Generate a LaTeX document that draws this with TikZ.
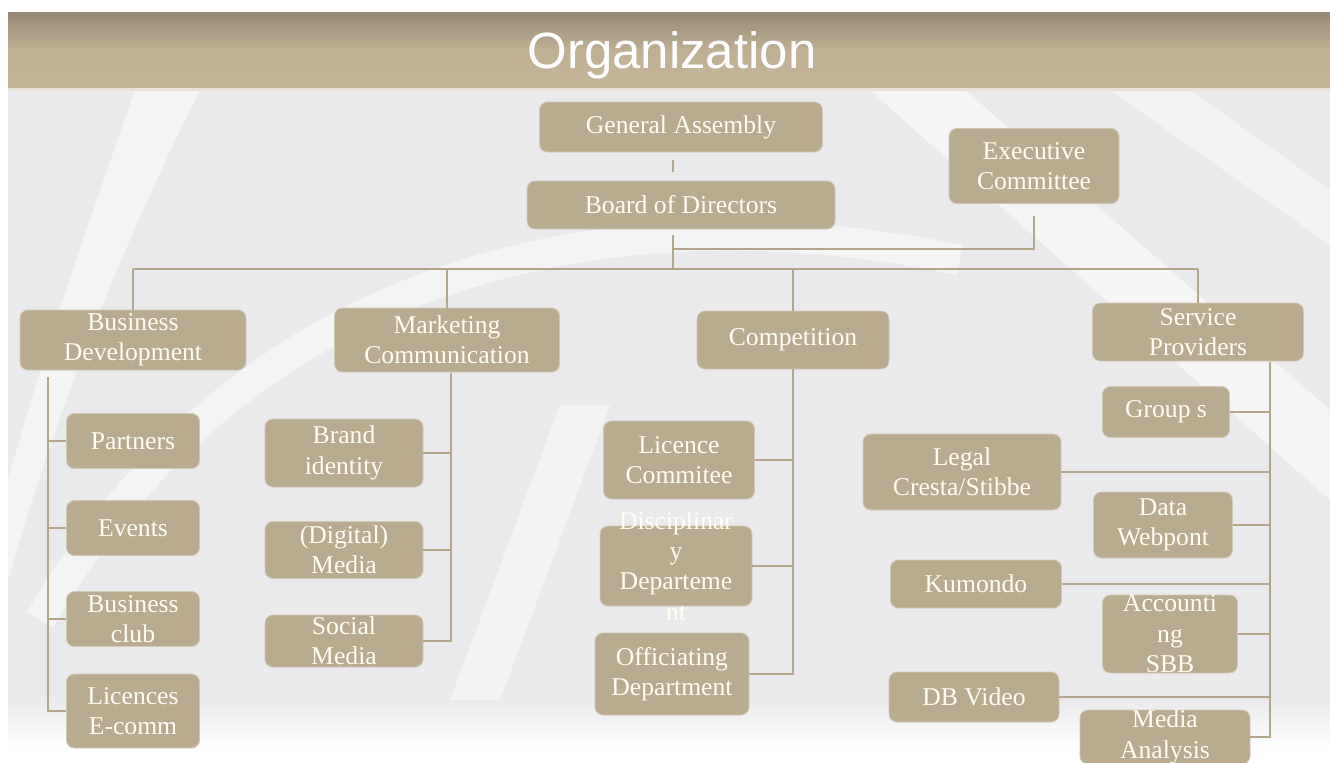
\documentclass[tikz,border=0pt]{standalone}
\usepackage{fontspec}
\setmainfont{Liberation Serif}
\newfontfamily\titlefont{Liberation Sans}
\usetikzlibrary{calc}
\definecolor{boxfill}{RGB}{185,171,143}
\definecolor{linecol}{RGB}{180,166,140}
\definecolor{boxtext}{RGB}{255,252,242}
\definecolor{bartop}{RGB}{150,137,116}
\definecolor{barmid}{RGB}{191,176,148}
\definecolor{barbot}{RGB}{197,182,153}
\definecolor{bodygray}{RGB}{234,234,236}

\begin{document}
\begin{tikzpicture}[x=0.02cm, y=-0.02cm,
  box/.style={fill=boxfill, draw=boxfill!65!white, line width=0.5pt,
    rounded corners=4.5pt, inner sep=0pt, text=boxtext, align=center,
    font=\fontsize{14.6}{17.3}\selectfont},
  boxtxt/.style={text=boxtext, align=center, inner sep=0pt,
    font=\fontsize{14.6}{17.3}\selectfont},
  sz/.style 2 args={minimum width=#1*0.02cm, minimum height=#2*0.02cm},
  conn/.style={draw=linecol, line width=1.6pt}]
\useasboundingbox (0,0) rectangle (1330,762);
\clip (0,0) rectangle (1330,762);
  % background
  \fill[white] (0,0) rectangle (1330,762);
  \fill[bodygray] (8,90) rectangle (1330,700);
  \shade[top color=bodygray, bottom color=white] (8,699) rectangle (1330,750);
  \fill[white, opacity=0.5] (135,90) -- (200,90) .. controls (120,250) and (60,400) .. (8,580) -- (8,480) .. controls (50,330) and (90,220) .. cycle;
  \draw[white, opacity=0.5, line width=0.6cm] (40,620) .. controls (250,260) and (620,190) .. (960,260);
  \fill[white, opacity=0.55] (870,90) -- (965,90) -- (1330,410) -- (1330,500) -- cycle;
  \fill[white, opacity=0.45] (1110,90) -- (1190,90) -- (1330,190) -- (1330,245) -- cycle;
  \fill[white, opacity=0.45] (560,405) -- (610,405) -- (500,700) -- (450,700) -- cycle;
  % title bar
  \shade[top color=bartop, bottom color=barbot, middle color=barmid] (8,12) rectangle (1330,88);
  \fill[barbot!40!white] (8,88) rectangle (1330,91);
  \node[text=white, font=\titlefont\fontsize{29}{32}\selectfont] (title) at (672,55) {Organization};

  % top of the chart
  \node[box, sz={283}{50}] (ga) at (681,127) {General Assembly};
  \node[box, sz={308}{48}] (bod) at (681,205) {Board of Directors};
  \node[box, sz={170}{75}] (exec) at (1034,166) {Executive\\Committee};
  \coordinate (hub) at (673,269);
  \coordinate (ej) at (673,249);
  \draw[conn] ($(ga.south)!0.28!(bod.north)+(-8,0)$) -- ($(ga.south)!0.68!(bod.north)+(-8,0)$);
  \draw[conn] ([yshift=-0.12cm]bod.south -| hub) -- (hub);
  \draw[conn] ([yshift=-0.24cm]exec.south) |- (ej);

  % departments
  \node[box, sz={226}{60}] (bd) at (133,340) {Business\\Development};
  \node[box, sz={225}{64}] (mc) at (447,340) {Marketing\\Communication};
  \node[box, sz={192}{58}] (cp) at (793,340) {Competition};
  \node[box, sz={211}{58}] (sp) at (1198,332) {Service\\Providers};
  \draw[conn] (bd.north |- hub) -- (sp.north |- hub);
  \draw[conn] (bd.north |- hub) -- (bd.north);
  \draw[conn] (mc.north |- hub) -- (mc.north);
  \draw[conn] (cp.north |- hub) -- (cp.north);
  \draw[conn] (sp.north |- hub) -- (sp.north);

  % business development
  \node[box, sz={133}{55}] (pt) at (133,441) {Partners};
  \node[box, sz={133}{55}] (ev) at (133,528) {Events};
  \node[box, sz={133}{55}] (bc) at (133,619) {Business\\club};
  \node[box, sz={133}{74}] (lic) at (133,711) {Licences\\E-comm};
  \coordinate (bd-l) at (48,377);
  \draw[conn] (bd-l) |- (lic.west);
  \draw[conn] (pt.west) -- (pt.west -| bd-l);
  \draw[conn] (ev.west) -- (ev.west -| bd-l);
  \draw[conn] (bc.west) -- (bc.west -| bd-l);

  % marketing communication
  \node[box, sz={158}{68}] (br) at (344,453) {Brand\\identity};
  \node[box, sz={158}{57}] (dm) at (344,550) {(Digital)\\Media};
  \node[box, sz={158}{52}] (sm) at (344,641) {Social\\Media};
  \coordinate (mc-r) at (451,373);
  \draw[conn] (mc-r) |- (sm.east);
  \draw[conn] (br.east) -- (br.east -| mc-r);
  \draw[conn] (dm.east) -- (dm.east -| mc-r);

  % competition
  \node[box, sz={151}{78}] (lc) at (679,460) {Licence\\Commitee};
  \node[box, sz={152}{80}] (dd) at (676,566) {};
  \node[boxtxt] (dd-t) at (dd.center) {Disciplinar\\y\\Departeme\\nt};
  \node[box, sz={154}{82}] (od) at (672,674) {Officiating\\Department};
  \draw[conn] (cp.south) |- (od.east);
  \draw[conn] (lc.east) -- (lc.east -| cp.south);
  \draw[conn] (dd.east) -- (dd.east -| cp.south);

  % service providers
  \node[box, sz={127}{51}] (gs) at (1166,412) {Group s};
  \node[box, sz={198}{76}] (lg) at (962,472) {Legal\\Cresta/Stibbe};
  \node[box, sz={139}{66}] (dw) at (1163,525) {Data\\Webpont};
  \node[box, sz={171}{48}] (km) at (976,584) {Kumondo};
  \node[box, sz={135}{78}] (ac) at (1170,634) {};
  \node[boxtxt] (ac-t) at (ac.center) {Accounti\\ng\\SBB};
  \node[box, sz={170}{50}] (db) at (974,697) {DB Video};
  \node[box, sz={170}{54}] (ma) at (1165,737) {Media\\Analysis};
  \coordinate (sp-r) at (1270,362);
  \draw[conn] (sp-r) |- (ma.east);
  \draw[conn] (gs.east) -- (gs.east -| sp-r);
  \draw[conn] (lg.east) -- (lg.east -| sp-r);
  \draw[conn] (dw.east) -- (dw.east -| sp-r);
  \draw[conn] (km.east) -- (km.east -| sp-r);
  \draw[conn] (ac.east) -- (ac.east -| sp-r);
  \draw[conn] (db.east) -- (db.east -| sp-r);
\end{tikzpicture}
\end{document}
